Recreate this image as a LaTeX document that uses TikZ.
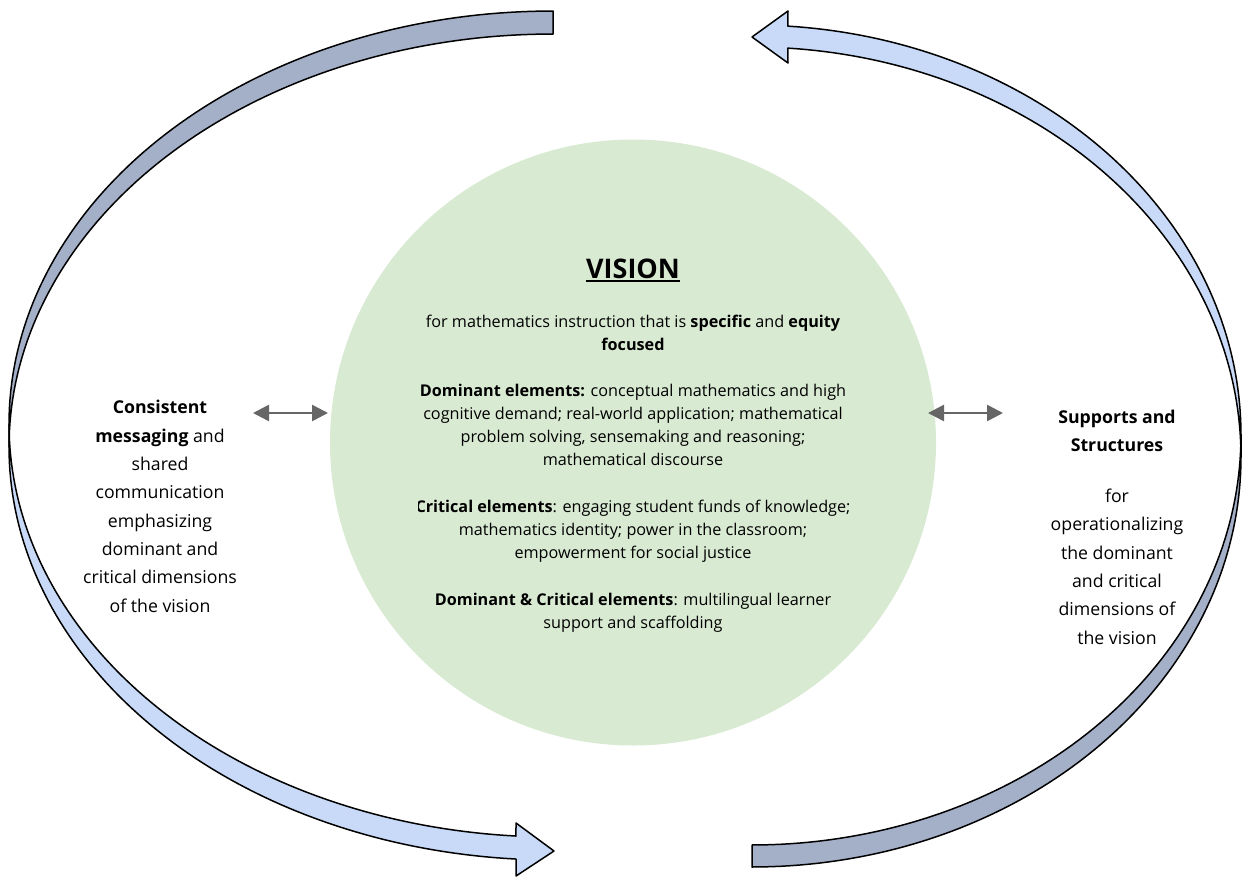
\documentclass[tikz,border=0pt]{standalone}
\usepackage{fontspec}
\setmainfont{Open Sans}
\usetikzlibrary{arrows.meta}

\definecolor{bandback}{RGB}{164,176,200}
\definecolor{bandfront}{RGB}{200,218,247}
\definecolor{visiongreen}{RGB}{217,234,211}
\definecolor{linkgray}{RGB}{102,102,102}

\tikzset{
  band/.style={draw=black, line width=1.5pt, line join=round},
  backband/.style={band, fill=bandback},
  frontband/.style={band, fill=bandfront},
  link/.style={draw=linkgray, line width=2.6pt,
    {Triangle[length=16pt,width=16pt]}-{Triangle[length=16pt,width=16pt]}},
  % multi-line nodes: the base anchor sits on the last line
  sidetext/.style={align=center, anchor=base, inner sep=0pt,
    font=\fontsize{17.7}{28.3}\selectfont},
  visiontext/.style={align=center, anchor=base, inner sep=0pt,
    font=\fontsize{16.2}{23}\selectfont},
}

\begin{document}
\begin{tikzpicture}[x=1pt,y=-1pt]
\useasboundingbox (0,0) rectangle (1243,878);

% central vision disc
\node[circle, fill=visiongreen, minimum size=606pt, inner sep=0pt] (vision) at (633,442.5) {};

% left curved arrow: back face (upper) and front face (lower, with head)
\draw[backband]
  plot[domain=270:180, samples=80] ({553+544*cos(\x)},{424+413*sin(\x)})
  -- plot[domain=180:270, samples=80] ({553+544*cos(\x)},{447+413*sin(\x)})
  -- cycle;
\draw[frontband]
  plot[domain=180:93.9, samples=80] ({553+544*cos(\x)},{424+413*sin(\x)})
  -- (516,823) -- (554,851) -- (516,876)
  -- plot[domain=93.9:180, samples=80] ({553+544*cos(\x)},{447+413*sin(\x)})
  -- cycle;

% right curved arrow: back face (lower) and front face (upper, with head)
\draw[backband]
  plot[domain=90:0, samples=80] ({752+489*cos(\x)},{457+410*sin(\x)})
  -- plot[domain=0:90, samples=80] ({752+489*cos(\x)},{435+410*sin(\x)})
  -- cycle;
\draw[frontband]
  plot[domain=360:274.2, samples=80] ({752+489*cos(\x)},{435+410*sin(\x)})
  -- (788,11) -- (752,37) -- (788,63)
  -- plot[domain=274.2:360, samples=80] ({752+489*cos(\x)},{457+410*sin(\x)})
  -- cycle;

% title of the disc
\node[anchor=base, inner sep=0pt, font=\fontsize{27}{30}\selectfont\bfseries] (title) at (633,278) {VISION};
\draw[line width=2pt] ([yshift=-3pt]title.base west) -- ([yshift=-3pt]title.base east);

% disc text, clipped to its text frame
\begin{scope}
  \clip (418,300) rectangle (848,650);
  \node[visiontext] (body) at (633,628) {%
    for mathematics instruction that is \textbf{specific} and \textbf{equity}\\
    \textbf{focused}\\[23pt]
    \textbf{Dominant elements:} conceptual mathematics and high\\
    cognitive demand; real-world application; mathematical\\
    problem solving, sensemaking and reasoning;\\
    mathematical discourse\\[24.5pt]
    \textbf{Critical elements}: engaging student funds of knowledge;\\
    mathematics identity; power in the classroom;\\
    empowerment for social justice\\[23.5pt]
    \textbf{Dominant \& Critical elements}: multilingual learner\\
    support and scaffolding};
\end{scope}

% side texts
\node[sidetext] (messaging) at (160,612) {%
  \textbf{Consistent}\\
  \textbf{messaging} and\\
  shared\\
  communication\\
  emphasizing\\
  dominant and\\
  critical dimensions\\
  of the vision};
\node[sidetext] (supports) at (1117,644) {%
  \textbf{Supports and}\\
  \textbf{Structures}\\[22.7pt]
  for\\
  operationalizing\\
  the dominant\\
  and critical\\
  dimensions of\\
  the vision};

% two-way links between the side texts and the disc
\coordinate (msgend) at (253,413);
\coordinate (visleft) at (328,413);
\coordinate (visright) at (928,413);
\coordinate (supend) at (1003,413);
\draw[link] (msgend) -- (visleft);
\draw[link] (visright) -- (supend);
\end{tikzpicture}
\end{document}
